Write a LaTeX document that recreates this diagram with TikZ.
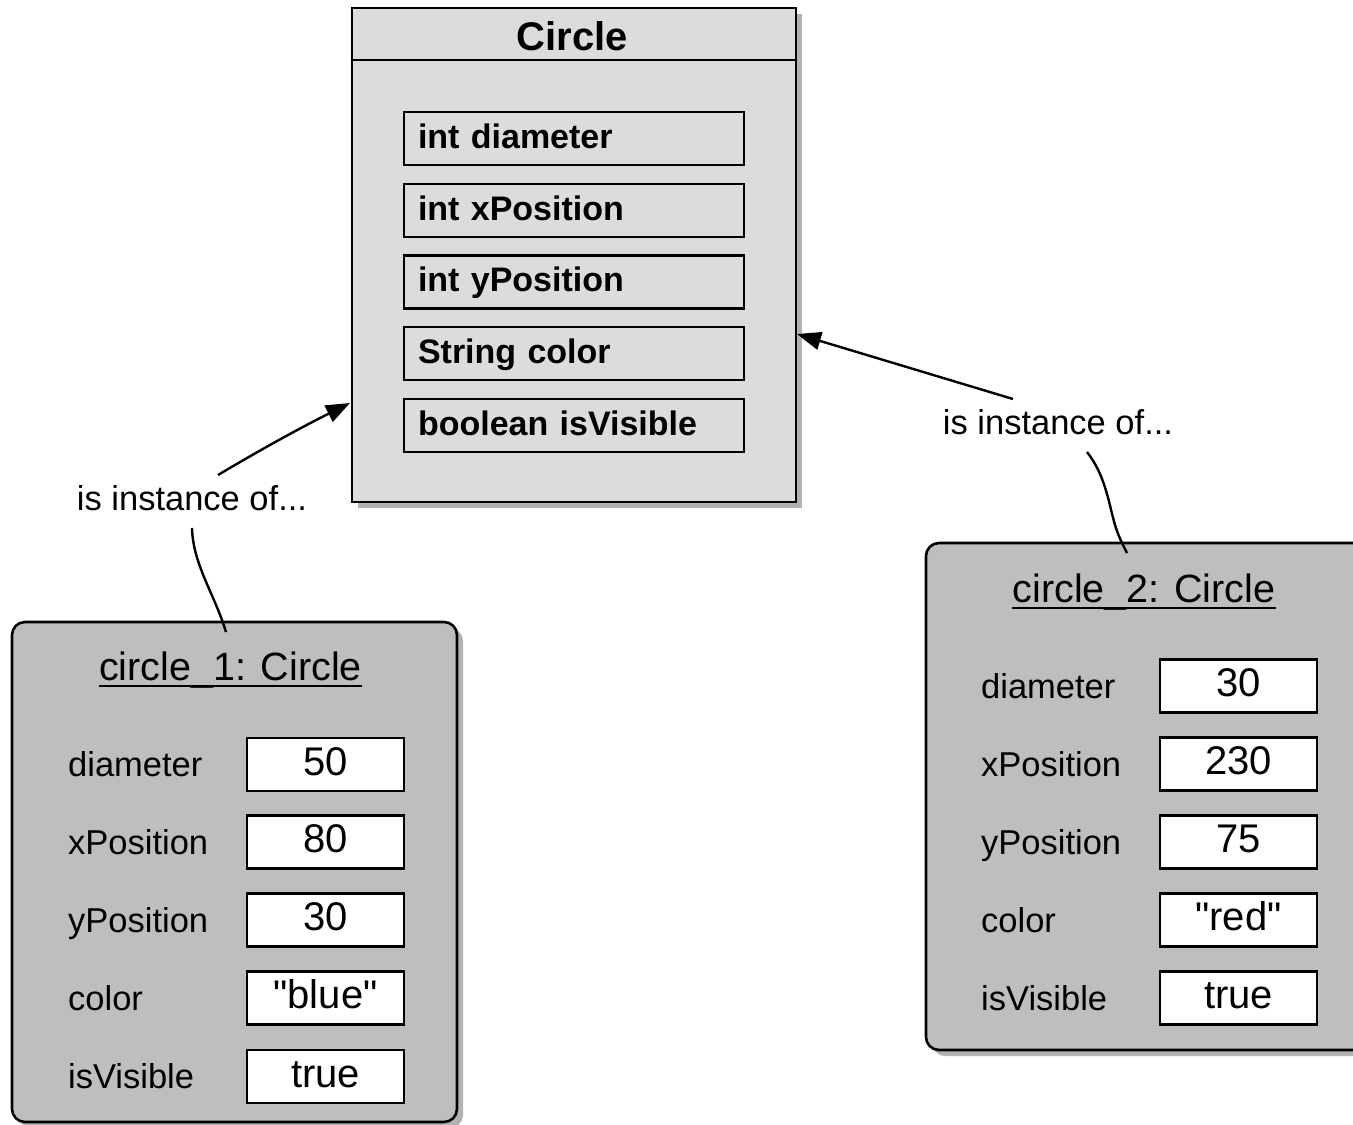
\documentclass[tikz,border=0pt]{standalone}
\usepackage{fontspec}
\setmainfont{Liberation Sans}[Ligatures=TeXOff]
\usetikzlibrary{arrows.meta,shadows}
\definecolor{clsfill}{HTML}{DCDCDC}
\definecolor{objfill}{HTML}{BEBEBE}
\tikzset{
  shad/.style={drop shadow={shadow xshift=6pt,shadow yshift=-6pt,fill=black,opacity=0.3}},
  clsbox/.style={draw,line width=2.6pt,fill=clsfill,shad,minimum width=444pt,minimum height=494pt,inner sep=0pt},
  attrbox/.style={draw,line width=2.6pt,fill=clsfill,minimum height=53pt,inner xsep=14pt,inner ysep=0pt,text width=312pt,align=left,
    font=\fontsize{34}{40}\selectfont\bfseries,text height=25pt,text depth=6pt},
  objbox/.style={draw,line width=2.6pt,fill=objfill,rounded corners=13pt,shad},
  valbox/.style={draw,line width=2.6pt,fill=white,minimum width=157pt,minimum height=53pt,inner sep=0pt,
    font=\fontsize{40}{46}\selectfont,text height=29pt,text depth=8pt},
  fieldlbl/.style={anchor=base west,inner sep=0pt,font=\fontsize{34.5}{40}\selectfont},
  objtitle/.style={anchor=base,inner sep=0pt,font=\fontsize{39.5}{44}\selectfont},
  uline/.style={line width=2pt},
  instlbl/.style={anchor=base,inner sep=0pt,font=\fontsize{34.5}{40}\selectfont},
  conn/.style={line width=2.4pt},
  arr/.style={conn,-{Triangle[length=24pt,width=18pt]}}
}
\begin{document}
\begin{tikzpicture}[x=1pt,y=-1pt]
\useasboundingbox (0,0) rectangle (1353,1125);

% class box
\node[clsbox] (cls) at (574,255) {};
\draw[line width=2.6pt] (cls.west |- 0,60) coordinate (hl) -- (cls.east |- 0,60) coordinate (hr);
\node[anchor=base,inner sep=0pt,font=\fontsize{40}{46}\selectfont\bfseries] (clst) at (572.5,50) {Circle};
\node[attrbox] (a1) at (574,138.5) {int diameter};
\node[attrbox] (a2) at (574,210.5) {int xPosition};
\node[attrbox] (a3) at (574,282) {int yPosition};
\node[attrbox] (a4) at (574,353.5) {String color};
\node[attrbox] (a5) at (574,425.5) {boolean isVisible};

% object 1
\draw[objbox] (12,622) rectangle (457,1122);
\node[objtitle] (o1t) at (230.5,680) {circle\_1: Circle};
\draw[uline] ([yshift=-6pt]o1t.base west) -- ([yshift=-6pt]o1t.base east);
\node[fieldlbl] (l1a) at (68,776) {diameter};
\node[fieldlbl] (l1b) at (68,854) {xPosition};
\node[fieldlbl] (l1c) at (68,932) {yPosition};
\node[fieldlbl] (l1d) at (68,1010) {color};
\node[fieldlbl] (l1e) at (68,1088) {isVisible};
\node[valbox] (v1a) at (325.5,764.5) {50};
\node[valbox] (v1b) at (325.5,842) {80};
\node[valbox] (v1c) at (325.5,920) {30};
\node[valbox] (v1d) at (325.5,998) {"blue"};
\node[valbox] (v1e) at (325.5,1076.5) {true};

% object 2
\draw[objbox] (926,543) rectangle (1375,1050);
\node[objtitle] (o2t) at (1144,602) {circle\_2: Circle};
\draw[uline] ([yshift=-6pt]o2t.base west) -- ([yshift=-6pt]o2t.base east);
\node[fieldlbl] (l2a) at (981,698) {diameter};
\node[fieldlbl] (l2b) at (981,776) {xPosition};
\node[fieldlbl] (l2c) at (981,854) {yPosition};
\node[fieldlbl] (l2d) at (981,932) {color};
\node[fieldlbl] (l2e) at (981,1010) {isVisible};
\node[valbox] (v2a) at (1238.5,686) {30};
\node[valbox] (v2b) at (1238.5,764) {230};
\node[valbox] (v2c) at (1238.5,842) {75};
\node[valbox] (v2d) at (1238.5,920) {"red"};
\node[valbox] (v2e) at (1238.5,998) {true};

% instance labels and connectors
\node[instlbl] (il1) at (192,510) {is instance of...};
\node[instlbl] (il2) at (1058,434) {is instance of...};

\coordinate (s1) at (218,475);
\coordinate (t1) at (350,403);
\coordinate (b1) at (192,528);
\coordinate (e1) at (226,632);
\draw[arr] (s1) .. controls (260,450) and (300,428) .. (t1);
\draw[conn] (b1) .. controls (193,565) and (215,595) .. (e1);

\coordinate (s2) at (1013,399);
\coordinate (t2) at (797,334);
\coordinate (b2) at (1087,452);
\coordinate (e2) at (1127,553);
\draw[arr] (s2) -- (t2);
\draw[conn] (b2) .. controls (1105,475) and (1108,500) .. (1115,525) .. controls (1119,538) and (1124,547) .. (e2);
\end{tikzpicture}
\end{document}
